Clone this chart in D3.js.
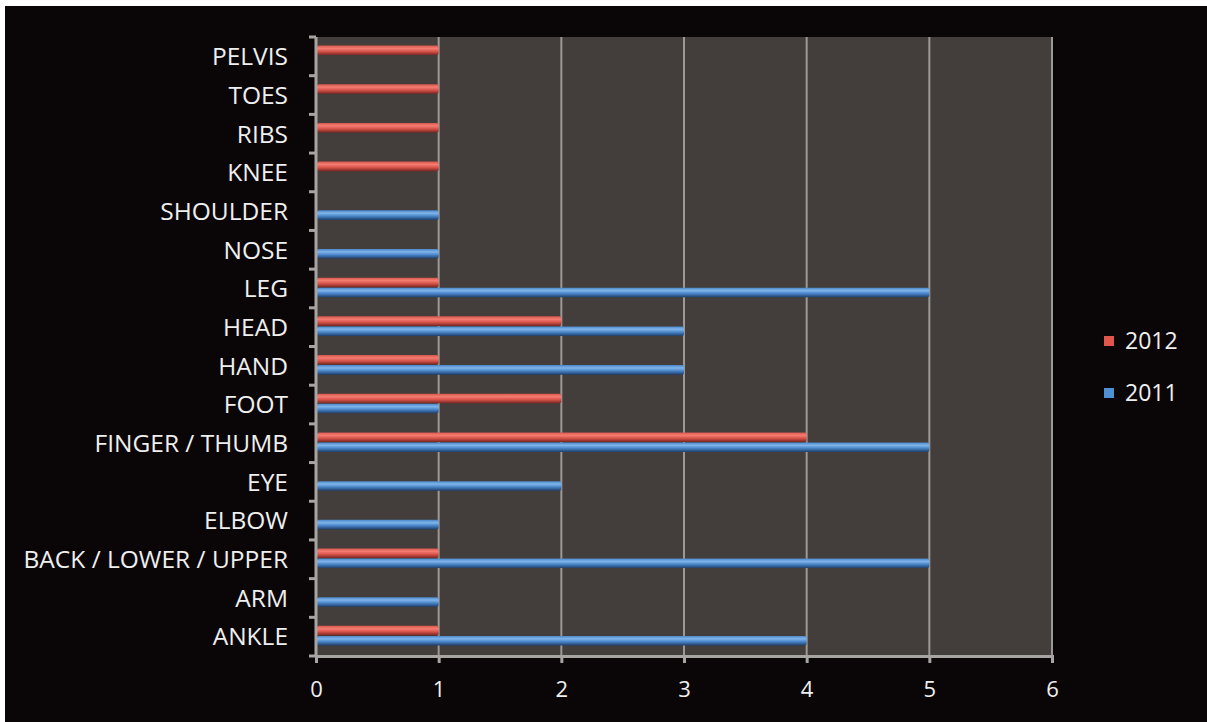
<!DOCTYPE html>
<html lang="en">
<head>
<meta charset="utf-8">
<title>Injuries by body part</title>
<script src="https://d3js.org/d3.v7.min.js"></script>
<style>
  html, body { margin: 0; padding: 0; background: #fff; }
  svg { display: block; }
  .cat { font-family: "Open Sans", sans-serif; font-size: 24.5px; fill: #efefef; }
  .tick text { font-family: "Open Sans", sans-serif; font-size: 22px; fill: #efefef; }
</style>
</head>
<body>
<div id="chart"></div>
<script>

// data, top to bottom as shown
var categories = ["PELVIS", "TOES", "RIBS", "KNEE", "SHOULDER", "NOSE", "LEG", "HEAD",
  "HAND", "FOOT", "FINGER / THUMB", "EYE", "ELBOW", "BACK / LOWER / UPPER", "ARM", "ANKLE"];
var values2012 = [1, 1, 1, 1, 0, 0, 1, 2, 1, 2, 4, 0, 0, 1, 0, 1];
var values2011 = [0, 0, 0, 0, 1, 1, 5, 3, 3, 1, 5, 2, 1, 5, 1, 4];
var xTicks = [0, 1, 2, 3, 4, 5, 6];
var seriesNames = ["2012", "2011"];

var w = 1207, h = 722;
var pLeft = 316, pRight = 1052, pTop = 37, pBottom = 656;

var svg = d3.select("#chart").append("svg")
  .attr("width", w).attr("height", h);

// white frame at top/left, black card
svg.append("rect").attr("width", w).attr("height", h).attr("fill", "#ffffff");
svg.append("rect").attr("x", 5).attr("y", 6).attr("width", w - 5).attr("height", h - 6).attr("fill", "#0a0607");

var defs = svg.append("defs");
function cyl(id, dark, mid, light) {
  var g = defs.append("linearGradient").attr("id", id)
    .attr("x1", 0).attr("y1", 0).attr("x2", 0).attr("y2", 1);
  g.append("stop").attr("offset", "0%").attr("stop-color", mid);
  g.append("stop").attr("offset", "30%").attr("stop-color", light);
  g.append("stop").attr("offset", "60%").attr("stop-color", mid);
  g.append("stop").attr("offset", "100%").attr("stop-color", dark);
}
cyl("red", "#7a2622", "#d9554b", "#f47d72");
cyl("blue", "#1f3f6a", "#4a86c9", "#80b5ea");
var fills = {"2012": "url(#red)", "2011": "url(#blue)"};
var legendFill = {"2012": "#e0564c", "2011": "#4f8fd4"};

var x = d3.scaleLinear().domain([0, 6]).range([pLeft, pRight]);
var y = d3.scaleBand().domain(categories).range([pTop, pBottom]);
var inner = d3.scaleBand().domain(seriesNames).range([0, y.bandwidth()]).paddingInner(0.05).paddingOuter(0.95);

// plot area
svg.append("rect")
  .attr("x", pLeft).attr("y", pTop).attr("width", pRight - pLeft).attr("height", pBottom - pTop)
  .attr("fill", "#433e3b");

// gridlines
svg.append("g").selectAll("line").data(xTicks.slice(1)).enter().append("line")
  .attr("x1", d => x(d)).attr("x2", d => x(d))
  .attr("y1", pTop).attr("y2", pBottom)
  .attr("stroke", "#9b9896").attr("stroke-width", 2);

// bars
var rows = categories.map(function(c, i) {
  return {cat: c, vals: [{s: "2012", v: values2012[i]}, {s: "2011", v: values2011[i]}]};
});
var rowG = svg.append("g").selectAll("g").data(rows).enter().append("g")
  .attr("transform", d => "translate(0," + (y(d.cat) - 1) + ")");
rowG.selectAll("rect").data(d => d.vals.filter(v => v.v > 0)).enter().append("rect")
  .attr("x", x(0) + 1)
  .attr("y", d => inner(d.s))
  .attr("width", d => x(d.v) - x(0) - 1)
  .attr("height", inner.bandwidth())
  .attr("rx", 2)
  .attr("fill", d => fills[d.s]);

// x axis
var xAxis = svg.append("g").attr("transform", "translate(0," + pBottom + ")")
  .call(d3.axisBottom(x).tickValues(xTicks).tickFormat(d3.format("d")).tickSize(7).tickPadding(18));
xAxis.select(".domain").attr("stroke", "#a7a5a3").attr("stroke-width", 3);
xAxis.selectAll(".tick line").attr("stroke", "#a7a5a3").attr("stroke-width", 3);

// y axis
var yLine = svg.append("g");
yLine.append("line").attr("x1", pLeft).attr("x2", pLeft).attr("y1", pTop).attr("y2", pBottom)
  .attr("stroke", "#a7a5a3").attr("stroke-width", 3);
yLine.selectAll(".yt").data(categories.concat(["_end"])).enter().append("line")
  .attr("class", "yt")
  .attr("x1", pLeft - 7).attr("x2", pLeft)
  .attr("y1", (d, i) => pTop + i * y.step()).attr("y2", (d, i) => pTop + i * y.step())
  .attr("stroke", "#a7a5a3").attr("stroke-width", 3);

svg.append("g").selectAll("text").data(categories).enter().append("text")
  .attr("class", "cat")
  .attr("x", 288)
  .attr("y", d => y(d) + y.bandwidth() / 2)
  .attr("dy", "0.36em")
  .attr("text-anchor", "end")
  .text(d => d);

// legend
var leg = svg.append("g").selectAll("g").data(seriesNames).enter().append("g")
  .attr("transform", (d, i) => "translate(1104," + (341 + i * 52) + ")");
leg.append("rect").attr("x", 0).attr("y", -5).attr("width", 10).attr("height", 10)
  .attr("fill", d => legendFill[d]);
leg.append("text").attr("x", 21).attr("y", 0).attr("dy", "0.36em")
  .attr("font-family", "Open Sans, sans-serif").attr("font-size", 23).attr("fill", "#efefef")
  .text(d => d);

</script>
</body>
</html>
